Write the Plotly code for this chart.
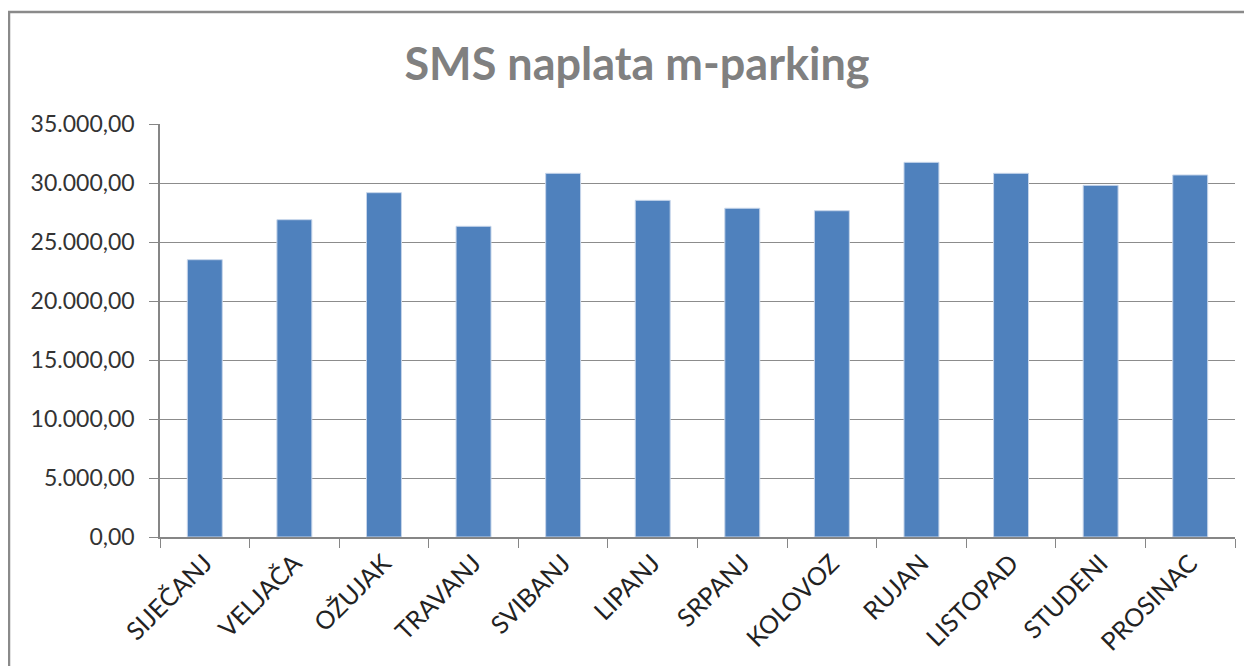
import plotly.graph_objects as go

# monthly SMS parking revenue
months = ["SIJEČANJ", "VELJAČA", "OŽUJAK", "TRAVANJ", "SVIBANJ", "LIPANJ",
          "SRPANJ", "KOLOVOZ", "RUJAN", "LISTOPAD", "STUDENI", "PROSINAC"]
revenue = [23500, 26890, 29180, 26330, 30820, 28530,
           27860, 27650, 31750, 30820, 29800, 30680]
y_ticks = [0, 5000, 10000, 15000, 20000, 25000, 30000, 35000]

W, H = 1252, 666
OFF = 8  # page body margin
L, R, T, B = 160 - OFF, 1235 - OFF, 124 - OFF, 537 - OFF  # plot area in px

fig = go.Figure()
fig.add_trace(go.Bar(
    x=months, y=revenue,
    marker=dict(color="#4F81BD", line=dict(color="#c6d5ea", width=1)),
))

axis_col = "#868686"
fig.update_layout(
    width=W, height=H,
    margin=dict(l=L, r=W - R, t=T, b=H - B),
    paper_bgcolor="white", plot_bgcolor="white",
    separators=",.",
    showlegend=False,
    bargap=0.61,
    font=dict(family="Lato, Open Sans, sans-serif", color="#333333"),
    title=dict(text="<b>SMS naplata m-parking</b>", x=(637 - OFF) / W, xanchor="center",
               y=1 - (64 - OFF) / H, yanchor="middle",
               font=dict(size=45, color="#808080", family="Lato, sans-serif")),
)
fig.update_xaxes(
    type="category", tickangle=-45, tickfont=dict(size=25, color="#222222"),
    showline=True, linecolor=axis_col, linewidth=1.5,
    ticks="outside", tickson="boundaries", ticklen=9, tickcolor=axis_col,
    showgrid=False,
)
fig.update_yaxes(
    range=[0, 35000], tickvals=y_ticks, tickformat=",.2f",
    tickfont=dict(size=23, color="#333333"),
    showline=True, linecolor=axis_col, linewidth=1.5,
    ticks="outside", ticklen=9, tickcolor=axis_col, ticklabelstandoff=10,
    showgrid=True, gridcolor="#8c8c8c", gridwidth=1.2, zeroline=False,
)

# outer chart frame (extends past the right/bottom edge of the picture)
pw, ph = R - L, B - T
fig.add_shape(type="rect", xref="paper", yref="paper",
              x0=(9 - OFF - L) / pw, x1=(1300 - L) / pw,
              y0=(B - 700) / ph, y1=(B - (12 - OFF)) / ph,
              line=dict(color="#8a8a8a", width=2.5), layer="below")

fig.write_html("out.html")
